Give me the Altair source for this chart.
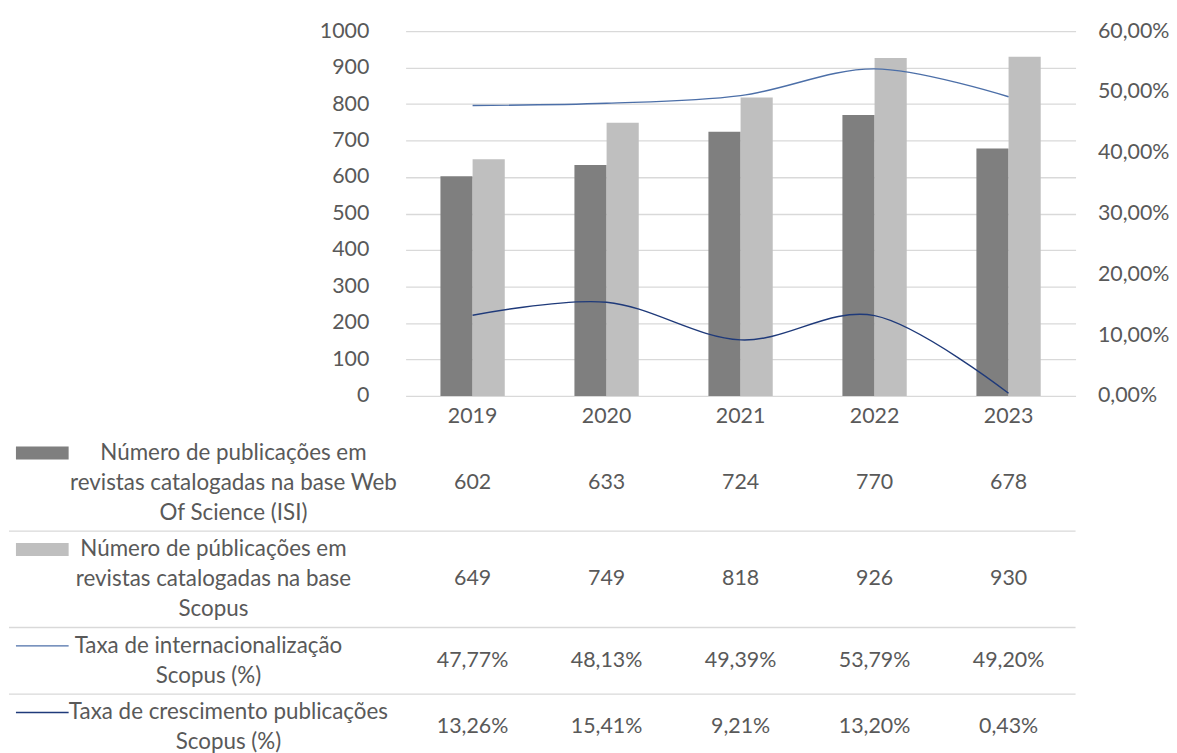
import altair as alt
import pandas as pd

# ---------------- data ----------------
years = ["2019", "2020", "2021", "2022", "2023"]
wos = [602, 633, 724, 770, 678]
scopus = [649, 749, 818, 926, 930]
intl_rate = [47.77, 48.13, 49.39, 53.79, 49.20]
growth_rate = [13.26, 15.41, 9.21, 13.20, 0.43]

row_labels = [
    ["Número de publicações em", "revistas catalogadas na base Web", "Of Science (ISI)"],
    ["Número de públicações em", "revistas catalogadas na base", "Scopus"],
    ["Taxa de internacionalização", "Scopus (%)"],
    ["Taxa de crescimento publicações", "Scopus (%)"],
]
left_ticks = list(range(0, 1001, 100))
right_ticks = [0, 0.1, 0.2, 0.3, 0.4, 0.5, 0.6]

# ---------------- style ----------------
DARK = "#7F7F7F"
LIGHT = "#BFBFBF"
INTL = "#4C6FA8"
GROW = "#1F3A7A"
GRID = "#D9D9D9"
TEXT = "#595959"
FONT = "Lato"
FS = 21.5
FS_HDR = 22.5
LINE_H = 30

PLOT_W = 674
PLOT_H = 367
LEFT_COL = 399          # room left of the plot for the table's row headers
KEY_L, KEY_W, KEY_GAP = 7, 53, 5
CHAR_W = 10.05           # average glyph width, used to centre header blocks

x_scale = alt.Scale(domain=years, paddingInner=0.52, paddingOuter=0.26)
no_frame = alt.ViewBackground(stroke="transparent", strokeWidth=0)

# ---------------- top chart ----------------
bar_df = pd.DataFrame({
    "year": years * 2,
    "series": ["wos"] * 5 + ["scopus"] * 5,
    "value": wos + scopus,
})
line_df = pd.DataFrame({
    "year": years * 2,
    "series": ["intl"] * 5 + ["growth"] * 5,
    "value": [v / 100 for v in intl_rate + growth_rate],
})

bars = alt.Chart(bar_df).mark_bar().encode(
    x=alt.X("year:N", scale=x_scale, sort=years,
            axis=alt.Axis(title=None, labelAngle=0, domain=False, ticks=False,
                          labelPadding=10, labelFontSize=FS, labelColor=TEXT,
                          labelFont=FONT)),
    xOffset=alt.XOffset("series:N", scale=alt.Scale(domain=["wos", "scopus"])),
    y=alt.Y("value:Q", scale=alt.Scale(domain=[0, 1000], nice=False),
            axis=alt.Axis(title=None, values=left_ticks, format="d", grid=True,
                          gridColor=GRID, gridWidth=1.3, domain=False, ticks=False,
                          labelPadding=37, labelFontSize=FS, labelColor=TEXT,
                          labelFont=FONT)),
    color=alt.Color("series:N", scale=alt.Scale(domain=["wos", "scopus"], range=[DARK, LIGHT]),
                    legend=None),
)

lines = alt.Chart(line_df).mark_line(interpolate="cardinal", strokeWidth=1.4).encode(
    x=alt.X("year:N", scale=x_scale, sort=years),
    y=alt.Y("value:Q", scale=alt.Scale(domain=[0, 0.6], nice=False),
            axis=alt.Axis(title=None, orient="right", values=right_ticks, grid=False,
                          domain=False, ticks=False, labelPadding=22,
                          labelExpr="replace(format(datum.value, '.2%'), '.', ',')",
                          labelFontSize=FS, labelColor=TEXT, labelFont=FONT)),
    color=alt.Color("series:N", scale=alt.Scale(domain=["intl", "growth"], range=[INTL, GROW]),
                    legend=None),
    detail="series:N",
)

top = alt.layer(bars, lines).resolve_scale(y="independent", color="independent").properties(
    width=PLOT_W, height=PLOT_H, view=no_frame)

# ---------------- data table ----------------
row_h = [LINE_H * len(r) + 7 for r in row_labels]
row_top = [sum(row_h[:i]) for i in range(len(row_h))]
row_mid = [row_top[i] + row_h[i] / 2 for i in range(len(row_h))]
TABLE_H = row_top[-1] + 47

def fmt_int(v):
    return f"{v:d}"

def fmt_pct(v):
    return f"{v:.2f}".replace(".", ",") + "%"

cells = []
for i, (vals, f) in enumerate([(wos, fmt_int), (scopus, fmt_int),
                               (intl_rate, fmt_pct), (growth_rate, fmt_pct)]):
    for y, v in zip(years, vals):
        cells.append({"year": y, "row": i, "ym": row_mid[i], "label": f(v)})
cell_df = pd.DataFrame(cells)

y_tab = alt.Scale(domain=[0, TABLE_H], reverse=True, nice=False, zero=False)

values = alt.Chart(cell_df).mark_text(font=FONT, fontSize=FS, color=TEXT,
                                      baseline="middle").encode(
    x=alt.X("year:N", scale=x_scale, sort=years, axis=None),
    y=alt.Y("ym:Q", scale=y_tab, axis=None),
    text="label:N",
)

sep_df = pd.DataFrame({
    "x0": [-LEFT_COL] * 3,
    "x1": [PLOT_W] * 3,
    "yb": row_top[1:],
})
seps = alt.Chart(sep_df).mark_rule(color=GRID, strokeWidth=1.3).encode(
    x=alt.X("x0:Q", scale=None),
    x2="x1:Q",
    y=alt.Y("yb:Q", scale=y_tab, axis=None),
)

hdr = []
key_rows = []
key_colors = [DARK, LIGHT, INTL, GROW]
key_types = ["bar", "bar", "line", "line"]
for i, lines_txt in enumerate(row_labels):
    longest = max(len(s) for s in lines_txt)
    text_left = -LEFT_COL + KEY_L + KEY_W + KEY_GAP
    first_line = row_mid[i] - (len(lines_txt) - 1) * LINE_H / 2
    hdr.append({"txt": "|".join(lines_txt), "xa": text_left + longest * CHAR_W / 2,
                "yf": first_line})
    key_rows.append({"kx0": -LEFT_COL + KEY_L, "kx1": -LEFT_COL + KEY_L + KEY_W,
                     "ky": first_line, "ky0": first_line - 6.5, "ky1": first_line + 6.5,
                     "col": key_colors[i], "kind": key_types[i]})
hdr_df = pd.DataFrame(hdr)
key_df = pd.DataFrame(key_rows)

headers = alt.Chart(hdr_df).mark_text(font=FONT, fontSize=FS_HDR, color=TEXT, lineBreak="|",
                                      lineHeight=LINE_H, align="center",
                                      baseline="middle").encode(
    x=alt.X("xa:Q", scale=None),
    y=alt.Y("yf:Q", scale=y_tab, axis=None),
    text="txt:N",
)

key_bars = alt.Chart(key_df).transform_filter("datum.kind == 'bar'").mark_rect().encode(
    x=alt.X("kx0:Q", scale=None), x2="kx1:Q",
    y=alt.Y("ky0:Q", scale=y_tab, axis=None), y2="ky1:Q",
    color=alt.Color("col:N", scale=None),
)
key_lines = alt.Chart(key_df).transform_filter("datum.kind == 'line'").mark_rule(
    strokeWidth=1.4).encode(
    x=alt.X("kx0:Q", scale=None), x2="kx1:Q",
    y=alt.Y("ky:Q", scale=y_tab, axis=None),
    color=alt.Color("col:N", scale=None),
)

table = alt.layer(seps, values, headers, key_bars, key_lines).resolve_scale(
    x="independent").properties(width=PLOT_W, height=TABLE_H, view=no_frame)

chart = alt.vconcat(top, table, spacing=7).resolve_scale(
    x="independent", y="independent", color="independent"
).properties(
    padding={"top": 10, "left": 0, "right": 0, "bottom": 0},
    background="white",
).configure(font=FONT).configure_view(strokeWidth=0, stroke="transparent")

chart.save("out.html", embed_options={"renderer": "svg", "actions": False})
